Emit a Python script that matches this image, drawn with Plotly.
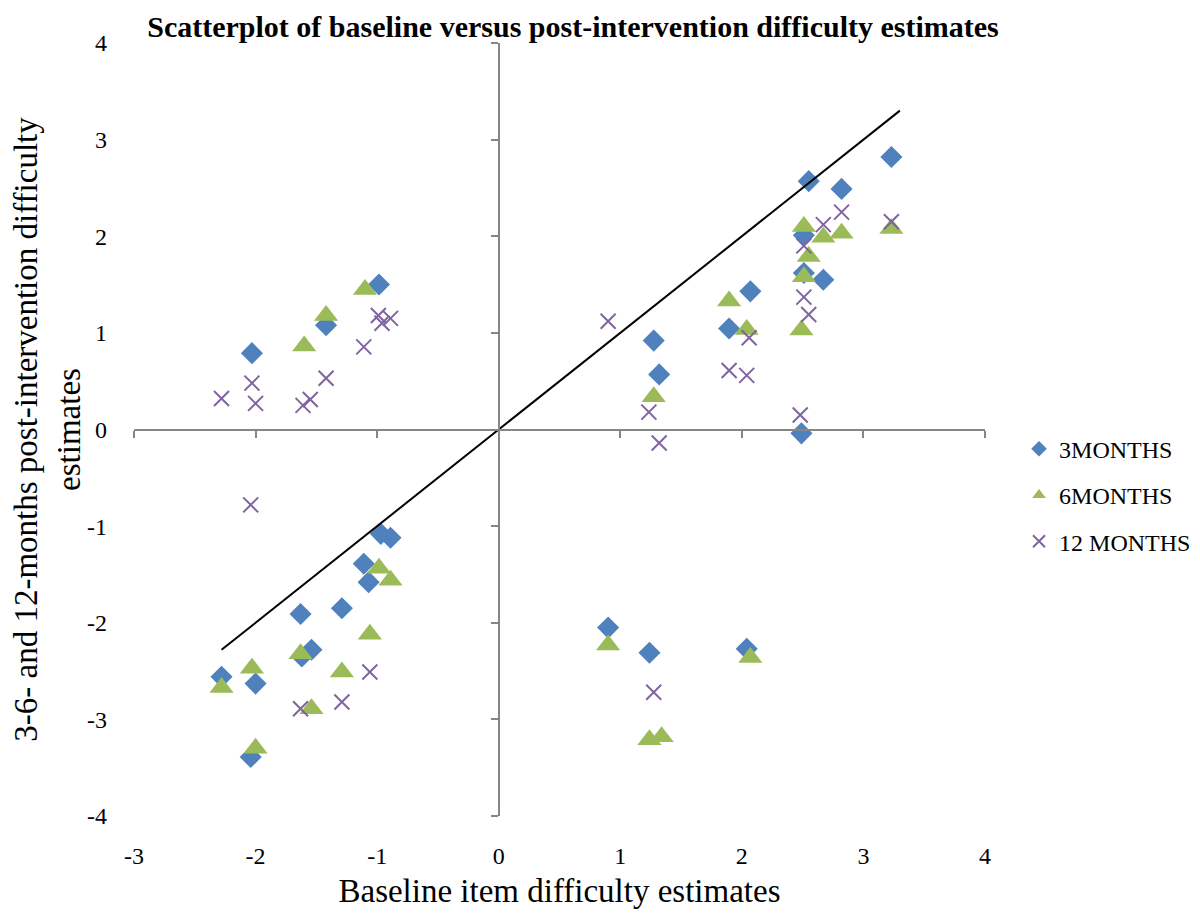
import plotly.graph_objects as go

# ---- data ----
m3_x = [-2.03, -1.42, -0.985, -0.97, -0.89, -1.11, -1.07, -1.63, -1.29, -1.54, -1.62,
        -2.28, -2.00, -2.04, 0.90, 1.24, 2.04, 1.275, 1.32, 2.07, 1.895, 2.55, 2.82,
        3.23, 2.51, 2.51, 2.67, 2.49]
m3_y = [0.79, 1.08, 1.50, -1.08, -1.12, -1.39, -1.58, -1.91, -1.85, -2.28, -2.35,
        -2.56, -2.63, -3.39, -2.05, -2.31, -2.27, 0.92, 0.57, 1.43, 1.045, 2.57, 2.49,
        2.82, 2.01, 1.62, 1.55, -0.04]

m6_x = [-1.60, -1.42, -1.10, -0.985, -0.89, -1.06, -1.63, -2.28, -2.03, -1.29, -1.54,
        -2.00, 0.90, 1.24, 1.34, 2.07, 1.275, 1.895, 2.04, 2.51, 2.67, 2.82, 3.23,
        2.55, 2.51, 2.49]
m6_y = [0.865, 1.18, 1.45, -1.435, -1.56, -2.12, -2.32, -2.67, -2.47, -2.51, -2.89,
        -3.30, -2.23, -3.21, -3.18, -2.36, 0.34, 1.33, 1.035, 2.10, 1.99, 2.03, 2.08,
        1.79, 1.58, 1.03]

m12_x = [-2.03, -2.00, -2.28, -1.61, -1.55, -1.42, -1.11, -0.99, -0.89, -0.96, -2.04,
         -1.06, -1.29, -1.63, 1.275, 0.90, 1.235, 1.32, 2.06, 1.895, 2.04, 2.82, 2.67,
         3.23, 2.51, 2.51, 2.55, 2.48]
m12_y = [0.48, 0.27, 0.32, 0.25, 0.31, 0.53, 0.855, 1.18, 1.15, 1.10, -0.78,
         -2.51, -2.82, -2.89, -2.72, 1.12, 0.18, -0.14, 0.95, 0.61, 0.56, 2.25, 2.12,
         2.15, 1.90, 1.37, 1.19, 0.15]

ref_line_x = [-2.28, 3.30]
ref_line_y = [-2.28, 3.30]

series_names = ["3MONTHS", "6MONTHS", "12 MONTHS"]
x_ticks = [-3, -2, -1, 0, 1, 2, 3, 4]
x_tick_text = ["-3", "-2", "-1", "0", "1", "2", "3", "4"]
y_ticks = [-4, -3, -2, -1, 0, 1, 2, 3, 4]
y_tick_text = ["-4", "-3", "-2", "-1", "0", "1", "2", "3", "4"]

FONT = "Liberation Serif, Times New Roman, serif"
AXIS_GRAY = "#868686"
PAGE_OFFSET = 8  # default body margin of the html page

fig = go.Figure()
fig.add_trace(go.Scatter(x=m3_x, y=m3_y, mode="markers", name=series_names[0],
                         legendgroup="a",
                         marker=dict(symbol="diamond", size=17, color="#4F81BD")))
fig.add_trace(go.Scatter(x=m6_x, y=m6_y, mode="markers", name=series_names[1],
                         legendgroup="b",
                         marker=dict(symbol="triangle-up", size=21, color="#9BBB59")))
fig.add_trace(go.Scatter(x=m12_x, y=m12_y, mode="markers", name=series_names[2],
                         legendgroup="c",
                         marker=dict(symbol="x-thin", size=15, color="#8064A2",
                                     line=dict(color="#8064A2", width=2))))
fig.add_trace(go.Scatter(x=ref_line_x, y=ref_line_y, mode="lines", showlegend=False,
                         line=dict(color="black", width=2), hoverinfo="skip"))
# empty trace to host the crossing axes
fig.add_trace(go.Scatter(x=[], y=[], xaxis="x2", yaxis="y2", showlegend=False))

fig.update_layout(
    width=1200, height=915,
    margin=dict(l=126, r=215, t=35, b=107),
    paper_bgcolor="white", plot_bgcolor="white",
    font=dict(family=FONT, color="black", size=24),
    title=dict(text="<b>Scatterplot of baseline versus post-intervention difficulty estimates</b>",
               x=(573 - PAGE_OFFSET) / 1200, xanchor="center",
               y=1 - (26 - PAGE_OFFSET) / 915, yanchor="middle",
               font=dict(family=FONT, size=30, color="black")),
    xaxis=dict(range=[-3, 4], tickvals=x_ticks, ticktext=x_tick_text, showgrid=False,
               zeroline=False, showline=False, ticks="", ticklabelstandoff=23,
               automargin=False, tickfont=dict(size=24),
               title=dict(text="Baseline item difficulty estimates",
                          font=dict(size=33), standoff=10)),
    yaxis=dict(range=[-4, 4], tickvals=y_ticks, ticktext=y_tick_text, showgrid=False,
               zeroline=False, showline=False, ticks="", ticklabelstandoff=26,
               automargin=False, tickfont=dict(size=24),
               title=dict(text="3-6- and 12-months post-intervention difficulty<br>estimates",
                          font=dict(size=33), standoff=10)),
    xaxis2=dict(overlaying="x", matches="x", range=[-3, 4], anchor="free", position=0.5,
                tickvals=x_ticks, showticklabels=False, ticks="outside", ticklen=7,
                tickcolor=AXIS_GRAY, tickwidth=2, showline=True, linecolor=AXIS_GRAY,
                linewidth=2, showgrid=False, zeroline=False),
    yaxis2=dict(overlaying="y", matches="y", range=[-4, 4], anchor="free", position=3 / 7,
                tickvals=y_ticks, showticklabels=False, ticks="outside", ticklen=7,
                tickcolor=AXIS_GRAY, tickwidth=2, showline=True, linecolor=AXIS_GRAY,
                linewidth=2, showgrid=False, zeroline=False),
    legend=dict(x=1.04, xanchor="left", y=0.415, yanchor="middle",
                font=dict(size=24, family=FONT), itemsizing="constant",
                tracegroupgap=12, bgcolor="rgba(0,0,0,0)"),
    showlegend=True,
)

fig.write_html("out.html")
